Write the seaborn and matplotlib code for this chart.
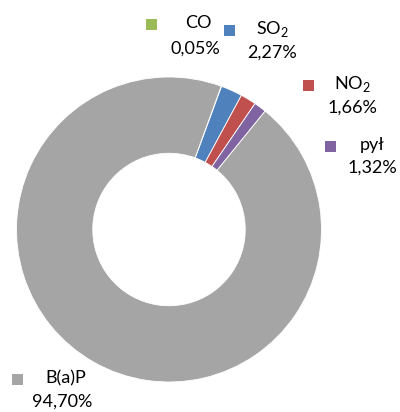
import matplotlib
matplotlib.use("Agg")
import matplotlib.pyplot as plt
import seaborn as sns
from matplotlib.patches import Rectangle

categories = ["CO", "SO$_\\mathregular{2}$", "NO$_\\mathregular{2}$", "pył", "B(a)P"]
values = [0.05, 2.27, 1.66, 1.32, 94.70]
value_labels = ["0,05%", "2,27%", "1,66%", "1,32%", "94,70%"]
colors = ["#9BBB59", "#4F81BD", "#C0504D", "#8064A2", "#A5A5A5"]

sns.set_theme(style="white")
plt.rcParams["font.family"] = ["Lato", "DejaVu Sans"]
plt.rcParams["mathtext.fontset"] = "custom"
plt.rcParams["mathtext.rm"] = "Lato"

W, H = 400, 412
fig = plt.figure(figsize=(W / 100, H / 100), dpi=100)
ax = fig.add_axes([0, 0, 1, 1])

cx, cy, r = 169, H - 229.5, 152.5
ax.pie(values, colors=colors, startangle=70, counterclock=False,
       center=(cx, cy), radius=r,
       wedgeprops=dict(width=r * 0.5, edgecolor="white", linewidth=0.6))
ax.set_xlim(0, W)
ax.set_ylim(0, H)
ax.set_aspect("equal")
ax.axis("off")

# label layout (pixel positions from top-left): square x, name x, line1 y, line2 y
label_pos = [
    (151, 198, 23, 49, 195),
    (229, 272, 29, 53, 272),
    (308, 352, 84, 108, 352),
    (330, 372, 145, 168, 372),
    (17, 66, 378, 402, 62),
]
sq = 11
for name, val, col, (sx, nx, y1, y2, vx) in zip(categories, value_labels, colors, label_pos):
    ax.add_patch(Rectangle((sx - sq / 2, H - y1 - sq / 2 - 1), sq, sq, color=col, lw=0))
    ax.text(nx, H - y1, name, ha="center", va="center", fontsize=13, color="#000000")
    ax.text(vx, H - y2, val, ha="center", va="center", fontsize=13, color="#000000")

fig.savefig("out.png", dpi=100)
